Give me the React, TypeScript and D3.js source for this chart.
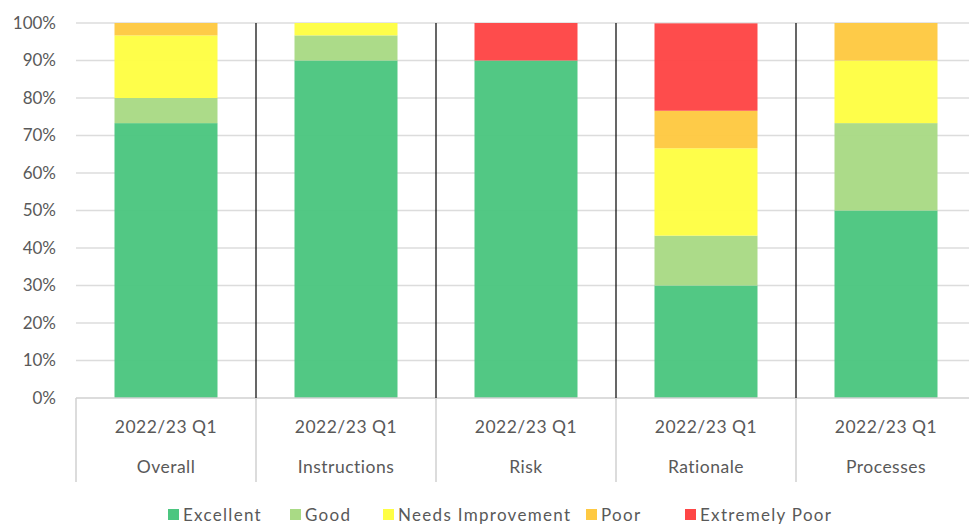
import React, { useEffect, useRef } from 'react'
import * as d3 from 'd3'

const groups = ['Overall', 'Instructions', 'Risk', 'Rationale', 'Processes']
const period = '2022/23 Q1'
const seriesNames = ['Excellent', 'Good', 'Needs Improvement', 'Poor', 'Extremely Poor']
const excellent = [73.3, 90, 90, 30, 50]
const good = [6.7, 6.7, 0, 13.3, 23.3]
const needsImprovement = [16.7, 3.3, 0, 23.3, 16.7]
const poor = [3.3, 0, 0, 10, 10]
const extremelyPoor = [0, 0, 10, 23.3, 0]
const colors = ['#4cc680', '#a9da85', '#fefe44', '#fec942', '#fe4646']
const yTicks = [0, 10, 20, 30, 40, 50, 60, 70, 80, 90, 100]

function App() {
  const ref = useRef<SVGSVGElement>(null)
  const W = 969
  const H = 526

  useEffect(() => {
    const svg = d3.select(ref.current)
    svg.selectAll('*').remove()
    const font = 'Lato, "Open Sans", sans-serif'
    const left = 76
    const top = 23
    const bottom = 398
    const right = left + 180 * groups.length

    const x = d3.scaleBand().domain(groups).range([left, right]).paddingInner(0).paddingOuter(0)
    const y = d3.scaleLinear().domain([0, 100]).range([bottom, top])

    // gridlines
    svg.append('g')
      .selectAll('line')
      .data(yTicks.filter((t) => t > 0))
      .join('line')
      .attr('x1', left)
      .attr('x2', W)
      .attr('y1', (d) => y(d))
      .attr('y2', (d) => y(d))
      .attr('stroke', '#dcdcdc')
      .attr('stroke-width', 1.3)

    // y labels
    svg.append('g')
      .selectAll('text')
      .data(yTicks)
      .join('text')
      .attr('x', 56)
      .attr('y', (d) => y(d))
      .attr('dy', '0.35em')
      .attr('text-anchor', 'end')
      .attr('font-family', font)
      .attr('font-size', 17)
      .attr('fill', '#595959')
      .text((d) => `${d}%`)

    // stacked bars
    const rows = groups.map((g, i) => ({
      group: g,
      Excellent: excellent[i],
      Good: good[i],
      'Needs Improvement': needsImprovement[i],
      Poor: poor[i],
      'Extremely Poor': extremelyPoor[i],
    }))
    const stacked = d3.stack<any>().keys(seriesNames)(rows)
    const barW = 103
    svg.append('g')
      .selectAll('g')
      .data(stacked)
      .join('g')
      .attr('fill', (_, i) => colors[i])
      .attr('fill-opacity', 0.97)
      .selectAll('rect')
      .data((s) => s.filter((d) => d[1] - d[0] > 0))
      .join('rect')
      .attr('x', (d) => (x(d.data.group) as number) + x.bandwidth() / 2 - barW / 2)
      .attr('width', barW)
      .attr('y', (d) => y(Math.min(d[1], 100)))
      .attr('height', (d) => y(d[0]) - y(Math.min(d[1], 100)))

    // axis line
    svg.append('line')
      .attr('x1', left)
      .attr('x2', W)
      .attr('y1', bottom)
      .attr('y2', bottom)
      .attr('stroke', '#d0d0d0')
      .attr('stroke-width', 1.5)

    // separators: black inside plot, grey in label area
    const seps = groups.map((g) => x(g) as number)
    svg.append('g')
      .selectAll('line')
      .data(seps.slice(1))
      .join('line')
      .attr('x1', (d) => d)
      .attr('x2', (d) => d)
      .attr('y1', top)
      .attr('y2', bottom)
      .attr('stroke', '#000')
      .attr('stroke-width', 1.2)
    svg.append('g')
      .selectAll('line')
      .data(seps)
      .join('line')
      .attr('x1', (d) => d)
      .attr('x2', (d) => d)
      .attr('y1', bottom)
      .attr('y2', 482)
      .attr('stroke', '#d0d0d0')
      .attr('stroke-width', 1.5)

    // category labels
    const lab = svg.append('g')
    groups.forEach((g) => {
      const cx = (x(g) as number) + x.bandwidth() / 2
      lab.append('text')
        .attr('x', cx)
        .attr('y', 427)
        .attr('dy', '0.35em')
        .attr('text-anchor', 'middle')
        .attr('font-family', font)
        .attr('font-size', 17.5)
        .attr('letter-spacing', 0.5)
        .attr('fill', '#595959')
        .text(period)
      lab.append('text')
        .attr('x', cx)
        .attr('y', 467)
        .attr('dy', '0.35em')
        .attr('text-anchor', 'middle')
        .attr('font-family', font)
        .attr('font-size', 17.5)
        .attr('letter-spacing', 0.5)
        .attr('fill', '#595959')
        .text(g)
    })

    // legend
    const legendX = [168, 290, 383, 586, 685]
    const lg = svg.append('g')
    seriesNames.forEach((n, i) => {
      lg.append('rect')
        .attr('x', legendX[i])
        .attr('y', 509)
        .attr('width', 11)
        .attr('height', 11)
        .attr('fill', colors[i])
      lg.append('text')
        .attr('x', legendX[i] + 15)
        .attr('y', 515)
        .attr('dy', '0.35em')
        .attr('font-family', font)
        .attr('font-size', 17)
        .attr('letter-spacing', 1.3)
        .attr('fill', '#595959')
        .text(n)
    })
  }, [])

  return (
    <svg ref={ref} width={W} height={H} style={{ position: 'absolute', left: 0, top: 0, background: '#fff' }} />
  )
}

export default App
